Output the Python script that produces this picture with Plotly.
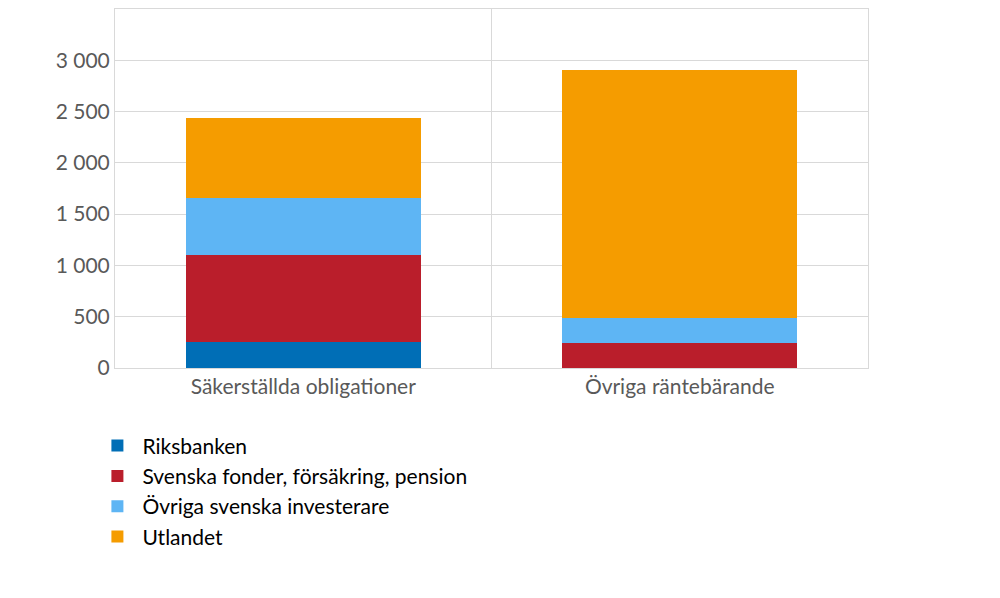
import plotly.graph_objects as go

categories = ["Säkerställda obligationer", "Övriga räntebärande"]
riksbanken = [255, 0]
svenska_fonder = [850, 245]
ovriga_svenska = [550, 245]
utlandet = [785, 2415]

series = [
    ("Riksbanken", riksbanken, "#006EB6"),
    ("Svenska fonder, försäkring, pension", svenska_fonder, "#BA1E2B"),
    ("Övriga svenska investerare", ovriga_svenska, "#5EB5F4"),
    ("Utlandet", utlandet, "#F59C00"),
]

fig = go.Figure()
for name, vals, col in series:
    fig.add_trace(go.Bar(x=categories, y=vals, name=name, marker_color=col,
                         marker_line_width=0, width=0.625))

fig.update_layout(
    barmode="stack",
    width=1000, height=598,
    paper_bgcolor="white", plot_bgcolor="white",
    margin=dict(l=107, r=140, t=1, b=238),
    separators=", ",
    font=dict(family="Lato, Open Sans, sans-serif", size=21, color="#404040"),
    legend=dict(orientation="v", x=-0.03, y=-0.16, xanchor="left", yanchor="top",
                traceorder="normal", font=dict(size=21, color="#000000"),
                tracegroupgap=7, itemwidth=40),
)
fig.update_yaxes(range=[0, 3500], dtick=500, tickformat=",d",
                 showgrid=True, gridcolor="#D9D9D9", gridwidth=1,
                 showline=True, linecolor="#D9D9D9", mirror=True,
                 ticks="", tickfont=dict(color="#595959"), zeroline=False)
fig.update_xaxes(showgrid=True, gridcolor="#D9D9D9", tickson="boundaries",
                 showline=True, linecolor="#D9D9D9", mirror=True, ticks="",
                 tickfont=dict(color="#595959"))

fig.write_html("out.html")
